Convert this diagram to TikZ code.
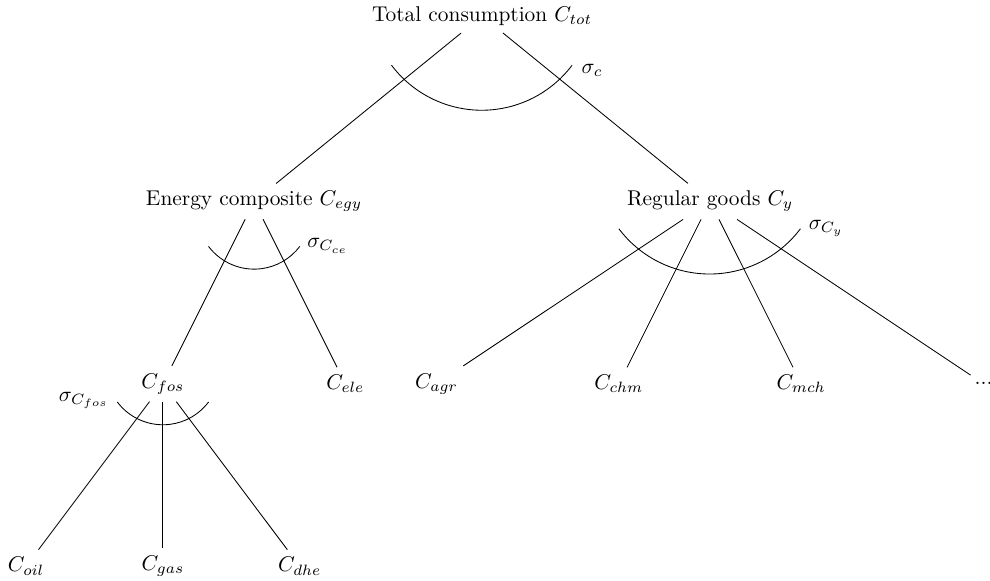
\documentclass[tikz,border=0pt]{standalone}
\usepackage{amsmath,amssymb}
\usepackage{tikz}

\begin{document}
\begin{tikzpicture}
  \useasboundingbox (-7.93,0.263) rectangle (8.355,-9.29);

  % Top level
  \node (tot) at (0,0) {Total consumption $C_{tot}$};

  % Energy composite and regular goods
  \node (egy) at (-3.75,-3.05) {Energy composite $C_{egy}$};
  \node (reg) at (3.75,-3.05) {Regular goods $C_y$};

  % Energy branch
  \node (fos) at (-5.25,-6.05) {$C_{fos}$};
  \node (ele) at (-2.25,-6.05) {$C_{ele}$};

  % Regular goods branch
  \node (agr) at (-0.75,-6.05) {$C_{agr}$};
  \node (chm) at (2.25,-6.05) {$C_{chm}$};
  \node (mch) at (5.25,-6.05) {$C_{mch}$};
  \node (etc) at (8.25,-6.05) {...};

  % Fossil fuels
  \node (oil) at (-7.5,-9.05) {$C_{oil}$};
  \node (gas) at (-5.25,-9.05) {$C_{gas}$};
  \node (dhe) at (-3,-9.05) {$C_{dhe}$};

  \draw (tot) -- (egy);
  \draw (tot) -- (reg);
  \draw (egy) -- (fos);
  \draw (egy) -- (ele);
  \draw (reg) -- (agr);
  \draw (reg) -- (chm);
  \draw (reg) -- (mch);
  \draw (reg) -- (etc);
  \draw (fos) -- (oil);
  \draw (fos) -- (gas);
  \draw (fos) -- (dhe);

  % Elasticities of substitution
  \draw ([shift={(-1.49,-0.81)}]tot.center) arc[start angle=-143, end angle=-37, radius=1.86];
  \draw ([shift={(-0.75,-0.74)}]egy.center) arc[start angle=-143, end angle=-37, radius=0.94];
  \draw ([shift={(-1.50,-0.45)}]reg.center) arc[start angle=-143, end angle=-37, radius=1.87];
  \draw ([shift={(-0.75,-0.30)}]fos.center) arc[start angle=-143, end angle=-37, radius=0.94];

  \node (sigc) at (1.81,-0.89) {$\sigma_c$};
  \node (sigce) at (-2.54,-3.78) {$\sigma_{C_{ce}}$};
  \node (sigy) at (5.66,-3.50) {$\sigma_{C_y}$};
  \node (sigfos) at (-6.55,-6.32) {$\sigma_{C_{fos}}$};
\end{tikzpicture}
\end{document}
